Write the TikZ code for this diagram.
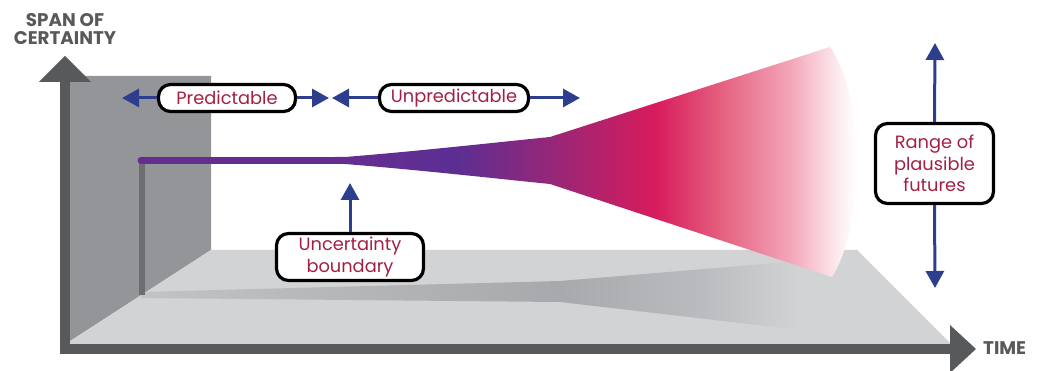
\documentclass[tikz,border=0pt]{standalone}
\usepackage{fontspec}
\setmainfont{Poppins}
\usetikzlibrary{arrows.meta}
\definecolor{axisgrey}{RGB}{88,89,91}
\definecolor{wallgrey}{RGB}{147,149,152}
\definecolor{floorgrey}{RGB}{209,211,212}
\definecolor{postgrey}{RGB}{109,110,113}
\definecolor{labelred}{RGB}{163,32,68}
\definecolor{arrowblue}{RGB}{46,62,143}
\definecolor{conepurple}{RGB}{102,45,145}
\definecolor{cA}{RGB}{92,46,146}
\definecolor{cB}{RGB}{155,38,118}
\definecolor{cC}{RGB}{216,27,92}
\definecolor{cD}{RGB}{228,95,125}
\definecolor{cE}{RGB}{243,165,185}
\definecolor{cF}{RGB}{253,238,241}
\definecolor{sA}{RGB}{194,195,197}
\definecolor{sB}{RGB}{167,169,172}
\definecolor{sC}{RGB}{185,187,190}
\pgfdeclarehorizontalshading{conefade}{100bp}{color(0bp)=(conepurple); color(25bp)=(conepurple); color(36.5bp)=(cA); color(46.2bp)=(cB); color(55.2bp)=(cC); color(61.3bp)=(cD); color(67.9bp)=(cE); color(72.6bp)=(cF); color(74.3bp)=(white); color(100bp)=(white)}
\pgfdeclarehorizontalshading{shadowfade}{100bp}{color(0bp)=(sA); color(25bp)=(sA); color(54.1bp)=(sB); color(63.9bp)=(sC); color(70.8bp)=(floorgrey); color(100bp)=(floorgrey)}
\tikzset{
  lbl/.style={draw=black, line width=3.2pt, rounded corners=12pt, fill=white, text=labelred,
    font=\fontsize{17.8}{21.5}\selectfont, align=center, inner sep=0pt},
  arr/.style={draw=arrowblue, line width=3pt, -{Triangle[length=17pt,width=18pt]}},
  axislbl/.style={text=axisgrey, font=\fontsize{18.3}{18}\selectfont\bfseries, align=center}
}
\begin{document}
\begin{tikzpicture}[x=1pt,y=-1pt]
\useasboundingbox (0,0) rectangle (1042,371);
% wall and floor
\fill[wallgrey] (64,76) -- (211,76) -- (211,250) -- (64,345) -- cycle;
\fill[floorgrey] (211,250) -- (857,250) -- (952,345) -- (64,345) -- cycle;
% shadow
\begin{scope}
\clip (141,292) -- (560,281) -- (860,256) -- (800,330) -- (560,302) -- (141,298) -- cycle;
\shade[shading=shadowfade] (141,250) rectangle (860,335);
\end{scope}
% post and line
\draw[postgrey, line width=6pt] (141.5,160) -- (141.5,295);
\draw[conepurple, line width=7pt, line cap=round] (141,160.5) -- (340,160.5);
% cone
\begin{scope}
\clip (335,157) -- (345,157) .. controls (420,151) and (500,142) .. (550,137) -- (830,47)
  .. controls (865,95) and (865,225) .. (832,277) -- (550,184)
  .. controls (500,179) and (420,170) .. (345,164) -- (335,164) -- cycle;
\shade[shading=conefade] (335,40) rectangle (865,285);
\end{scope}
% axes
\fill[axisgrey] (59.5,354) rectangle (69.5,80);
\fill[axisgrey] (39,82) -- (91,82) -- (65,56) -- cycle;
\fill[axisgrey] (59.5,344) rectangle (951,354);
\fill[axisgrey] (950,325) -- (976,349) -- (950,373) -- cycle;
\node[axislbl] (span) at (65,29) {SPAN OF\\CERTAINTY};
\node[axislbl, anchor=base west, inner sep=0pt] (time) at (983,355) {TIME};
% labels
\node[lbl, minimum width=137pt, minimum height=27pt] (pred) at (227,98) {Predictable};
\node[lbl, minimum width=149pt, minimum height=27pt] (unpred) at (454,98) {Unpredictable};
\node[lbl, minimum width=147pt, minimum height=47pt] (unc) at (350,257) {Uncertainty\\boundary};
\node[lbl, minimum width=118pt, minimum height=80pt] (rng) at (934.5,163.5) {Range of\\plausible\\futures};
\coordinate (pl) at (122,98);
\coordinate (pr) at (329,98);
\coordinate (ul) at (332,98);
\coordinate (ur) at (580,98);
\coordinate (uc) at (350,183);
\coordinate (rt) at (935,43);
\coordinate (rb) at (935,288);
\draw[arr] (pred.west) -- (pl);
\draw[arr] (pred.east) -- (pr);
\draw[arr] (unpred.west) -- (ul);
\draw[arr] (unpred.east) -- (ur);
\draw[arr] (unc.north) -- (uc);
\draw[arr] (rng.north) -- (rt);
\draw[arr] (rng.south) -- (rb);
\end{tikzpicture}
\end{document}
